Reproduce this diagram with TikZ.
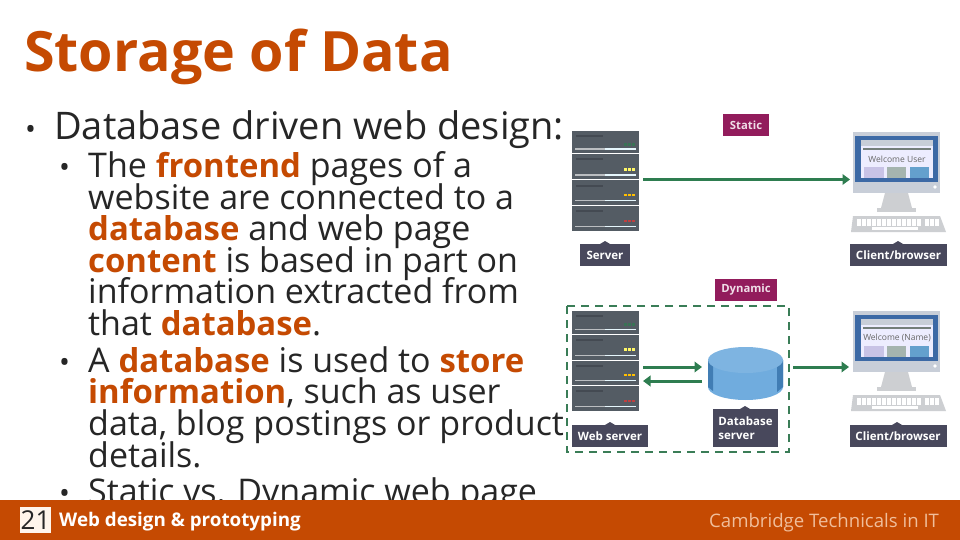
\documentclass[tikz,border=0pt]{standalone}
\usepackage{fontspec}
\setmainfont{Open Sans}
\usetikzlibrary{arrows.meta}
\definecolor{rust}{RGB}{197,74,2}
\definecolor{ink}{RGB}{38,38,38}
\definecolor{arrowgreen}{RGB}{46,125,80}
\definecolor{srv}{RGB}{84,92,100}
\definecolor{srvdark}{RGB}{68,74,82}
\definecolor{tagdark}{RGB}{72,72,92}
\definecolor{tagmag}{RGB}{146,28,92}
\definecolor{monframe}{RGB}{200,206,216}
\definecolor{monblue}{RGB}{60,105,165}
\definecolor{keyg}{RGB}{205,207,210}
\definecolor{cyl}{RGB}{112,172,222}
\definecolor{cyldark}{RGB}{65,125,180}
\definecolor{footlight}{RGB}{240,190,155}
\definecolor{tilea}{RGB}{200,195,230}
\definecolor{tileb}{RGB}{165,180,175}
\definecolor{tilec}{RGB}{100,160,205}
\newcommand{\hl}[1]{{\fontsize{32.9}{34}\selectfont\bfseries\color{rust}#1}}
\tikzset{
 x=1pt,y=-1pt,
 body/.style={anchor=base west,inner sep=0pt,font=\fontsize{34}{34}\selectfont,text=ink},
 dot/.style={anchor=base west,inner sep=0pt,font=\fontsize{29}{29}\selectfont,text=ink},
 head/.style={body,font=\fontsize{38}{38}\selectfont},
 title/.style={anchor=base west,inner sep=0pt,font=\fontsize{55.6}{56}\selectfont\bfseries,text=rust},
 tag/.style={fill=tagdark,text=white,font=\fontsize{11.5}{14}\selectfont\bfseries,align=left,inner sep=0pt},
 mag/.style={fill=tagmag,text=white!85!tagmag,font=\fontsize{11.3}{14}\selectfont\bfseries,inner sep=0pt},
 flow/.style={draw=arrowgreen,line width=3pt,-{Triangle[length=7.5pt,width=10.5pt]}},
 foot/.style={anchor=base west,inner sep=0pt},
}
\newcommand{\srvunit}[3]{% top, height, light colour
  \fill[srv] (572,#1) rectangle (639,#1+#2);
  \fill[srvdark] (576,#1+4) rectangle (603,#1+6);
  \foreach \d in {624,628,632}{\fill[#3] (\d,#1+#2*0.55) rectangle (\d+2.6,#1+#2*0.55+2.6);}
  \fill[white!60!srv] (575,#1+#2-5) rectangle (605,#1+#2-3.8);
  \fill[white!90!cyan] (605,#1+#2-5) rectangle (636,#1+#2-3.8);
}
\newcommand{\srvstack}[1]{%
  \srvunit{#1}{22.5}{arrowgreen!70!srv}
  \srvunit{#1+23.5}{25}{yellow!60!white}
  \srvunit{#1+49.5}{24}{orange!50!yellow}
  \srvunit{#1+74.5}{25.5}{red!50!gray}
}
\newcommand{\monitor}[2]{% top, welcome text
  \fill[monframe] (853,#1) rectangle (940,#1+61);
  \fill[monblue] (855,#1+4) rectangle (938,#1+50);
  \fill[white!93!blue] (861,#1+8) rectangle (933,#1+46);
  \fill[monframe] (861,#1+8) rectangle (933,#1+14);
  \fill[tileb!70!black] (863,#1+16) rectangle (931,#1+18);
  \fill[tilea] (864,#1+35) rectangle (884,#1+46);
  \fill[tileb] (887,#1+35) rectangle (906,#1+46);
  \fill[tilec] (910,#1+35) rectangle (929,#1+46);
  \fill[white] (935,#1+55) circle[radius=1.8pt];
  \node[inner sep=0pt,text=black!60,font=\fontsize{8.5}{9}\selectfont] at (897,#1+27) {#2};
  \fill[keyg] (885,#1+61) -- (908,#1+61) -- (912,#1+76) -- (881,#1+76) -- cycle;
  \fill[keyg] (877,#1+76) rectangle (916,#1+80);
  \fill[keyg] (853,#1+84) -- (940,#1+84) -- (946,#1+100) -- (851,#1+100) -- cycle;
  \foreach \k in {857,862,...,917}{\fill[white] (\k,#1+87) rectangle (\k+4,#1+94);}
  \foreach \k in {925,930,935}{\fill[white] (\k,#1+87) rectangle (\k+4,#1+94);}
  \fill[white] (872,#1+95) rectangle (918,#1+98);
}
\begin{document}
\begin{tikzpicture}
\useasboundingbox (0,0) rectangle (960,540);
\fill[white] (0,0) rectangle (960,540);

% --- diagram, static
\srvstack{131}
\monitor{132}{Welcome User}
\node[mag,minimum width=46pt,minimum height=22pt] (static) at (746,125) {Static};
\fill[tagdark] (600,244) -- (605,241) -- (610,244) -- cycle;
\node[tag,minimum width=50pt,minimum height=22pt,align=center] (server) at (605,255) {Server};
\fill[tagdark] (893,244) -- (898,241) -- (903,244) -- cycle;
\node[tag,minimum width=97pt,minimum height=22pt,align=center] (clientA) at (898.5,255) {Client/browser};
\coordinate (srvAout) at (643,179.5);
\coordinate (monAin) at (850,179.5);
\draw[flow] (srvAout) -- (monAin);

% --- diagram, dynamic
\node[mag,minimum width=62pt,minimum height=22pt] (dynamic) at (746,290) {Dynamic};
\draw[draw=arrowgreen!85!gray,line width=1.6pt,dash pattern=on 8pt off 6pt] (567,306) rectangle (789,452);
\srvstack{311}
\monitor{311}{Welcome (Name)}
\fill[tagdark] (605,425) -- (610,422) -- (615,425) -- cycle;
\node[tag,minimum width=76pt,minimum height=22pt,align=center] (webserver) at (610,436) {Web server};
\fill[tagdark] (740,409) -- (745,406) -- (750,409) -- cycle;
\node[tag,minimum width=65pt,minimum height=38pt] (dbserver) at (745.5,428) {Database\\server};
\fill[tagdark] (892,425) -- (897,422) -- (902,425) -- cycle;
\node[tag,minimum width=97pt,minimum height=22pt,align=center] (clientB) at (898,436) {Client/browser};
% database cylinder
\fill[cyl] (708,360) -- (708,387) arc[start angle=180,end angle=360,x radius=37.5pt,y radius=13pt] -- (783,360) -- cycle;
\fill[cyldark] (708,360) -- (708,387) -- (713,391) -- (713,364) -- cycle;
\fill[cyldark] (783,360) -- (783,387) -- (777,392) -- (777,364) -- cycle;
\fill[cyl!90!white] (745.5,360) ellipse[x radius=37.5pt,y radius=13pt];
\coordinate (webout) at (643,367);
\coordinate (dbin) at (702,367);
\coordinate (dbout) at (702,381);
\coordinate (webin) at (643,381);
\coordinate (boxout) at (793,367);
\coordinate (monBin) at (849,367);
\draw[flow] (webout) -- (dbin);
\draw[flow] (dbout) -- (webin);
\draw[flow] (boxout) -- (monBin);

% --- text
\node[title] (ttl) at (24,72) {Storage of Data};
\node[dot] (h0) at (25,140) {•};
\node[head] (h1) at (54,140) {Database driven web design:};
\node[dot] (b1) at (59,177.5) {•};
\node[body] (l1) at (88,177.5) {The \hl{frontend} pages of a};
\node[body] (l2) at (88,209.5) {website are connected to a};
\node[body] (l3) at (88,240.5) {\hl{database} and web page};
\node[body] (l4) at (88,272.5) {\hl{content} is based in part on};
\node[body] (l5) at (88,303.5) {information extracted from};
\node[body] (l6) at (88,335.5) {that \hl{database}.};
\node[dot] (b2) at (59,372.5) {•};
\node[body] (l7) at (88,372.5) {A \hl{database} is used to \hl{store}};
\node[body] (l8) at (88,403.5) {\hl{information}, such as user};
\node[body] (l9) at (88,435.5) {data, blog postings or product};
\node[body] (l10) at (88,467.5) {details.};
\node[dot] (b3) at (59,503.5) {•};
\node[body] (l11) at (88,503.5) {Static vs. Dynamic web page};

% --- footer
\fill[rust] (0,500) rectangle (960,540);
\node[fill=white!92!orange,text=ink,inner sep=0pt,minimum width=31pt,minimum height=26pt,font=\fontsize{26}{26}\selectfont] (num) at (35.5,520) {21};
\node[foot,text=white,font=\fontsize{18.8}{20}\selectfont\bfseries] (ftl) at (59,526) {Web design \& prototyping};
\node[foot,text=footlight,font=\fontsize{18.6}{20}\selectfont] (ftr) at (709,527) {Cambridge Technicals in IT};
\end{tikzpicture}
\end{document}
